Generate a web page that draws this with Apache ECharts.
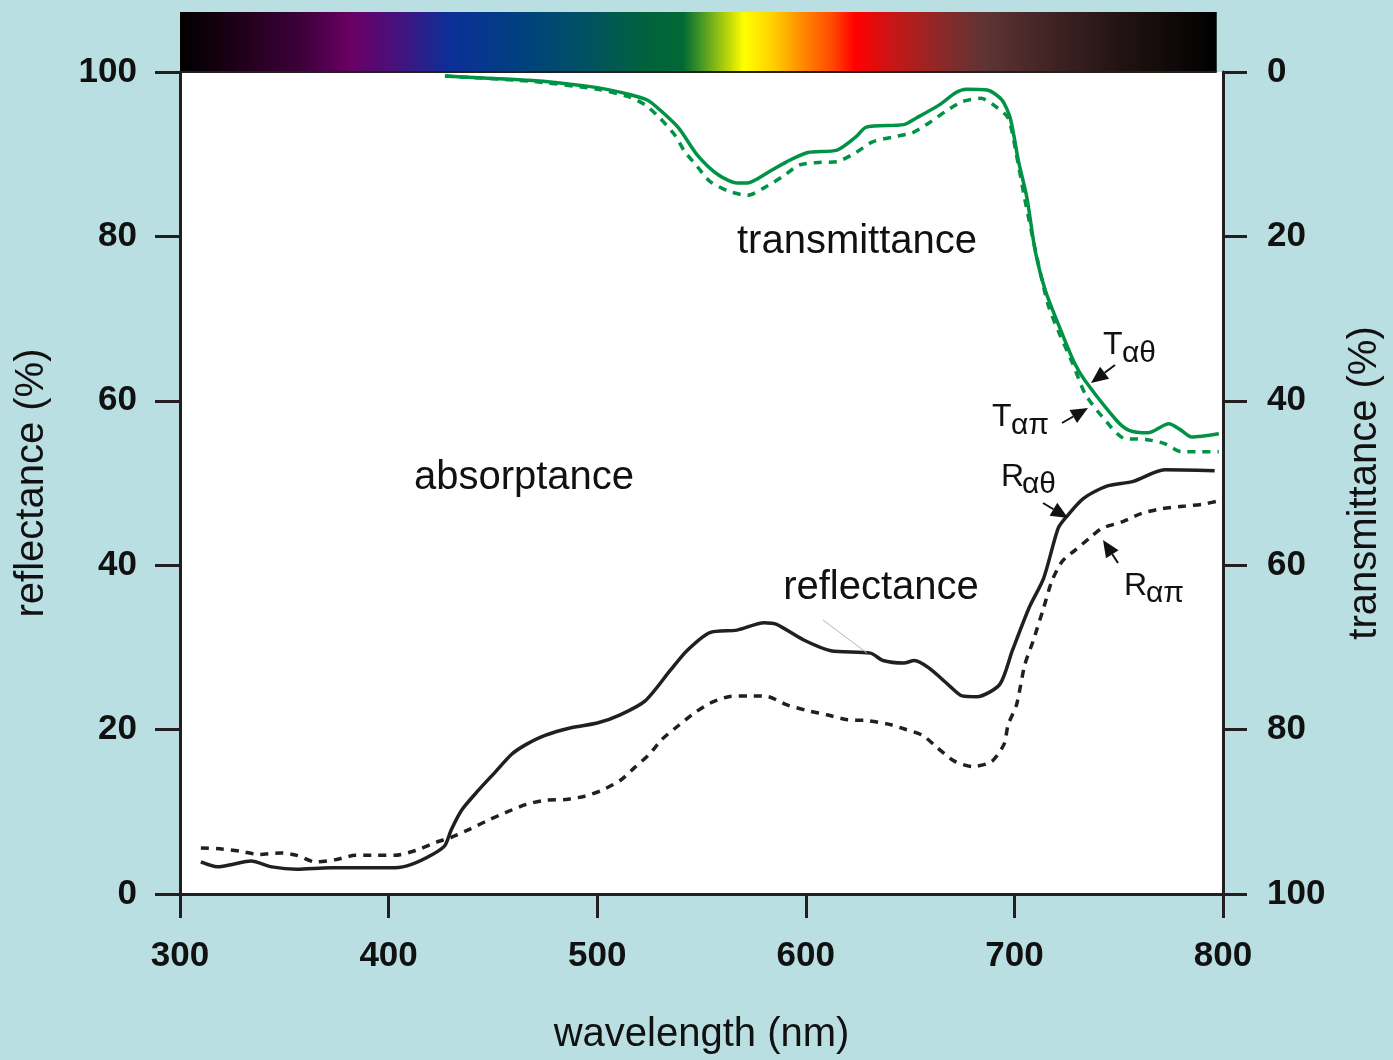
<!DOCTYPE html>
<html>
<head>
<meta charset="utf-8">
<title>leaf spectra</title>
<script src="https://cdn.jsdelivr.net/npm/echarts@6/dist/echarts.min.js"></script>
<style>
    html, body { margin: 0; padding: 0; background: #badfe2; overflow: hidden; width: 100%; height: 100%; }
    #main { width: 100vw; height: 100vh; }
</style>
</head>
<body>
<div id="main"></div>
<script>
// x axis (nm)
var xTicks = [300, 400, 500, 600, 700, 800];
var yTicks = [0, 20, 40, 60, 80, 100];

// transmittance, solid (T alpha theta)
var wlTTheta = [427, 443, 467, 481, 500, 515, 524, 530, 539, 548, 558, 567, 572, 582, 591, 601, 615, 624, 629, 647,
    653, 664, 672, 677, 687, 694, 698, 702, 706, 710, 715, 723, 729, 734, 749, 755, 764, 774, 780, 785, 798];
var tTheta = [0.5, 0.7, 1.0, 1.3, 1.9, 2.7, 3.4, 4.6, 6.8, 10.1, 12.5, 13.5, 13.5, 12.2, 10.9, 9.8, 9.5, 7.9, 6.7, 6.4,
    5.6, 4.0, 2.5, 2.1, 2.2, 3.4, 5.6, 10.9, 15.3, 21.8, 26.7, 31.9, 35.5, 37.6, 42.4, 43.6, 43.9, 42.8, 43.6, 44.4, 44.0];

// transmittance, dashed (T alpha pi)
var wlTPi = [427, 467, 500, 515, 523, 530, 537, 542, 548, 554, 563, 572, 580, 589, 597, 606, 615, 624, 632, 642,
    651, 659, 667, 675, 684, 691, 697, 701, 705, 710, 716, 721, 728, 734, 742, 753, 763, 772, 780, 790, 798];
var tPi = [0.5, 1.1, 2.1, 3.0, 4.0, 5.6, 7.6, 9.7, 11.5, 13.3, 14.5, 15.0, 14.1, 12.7, 11.3, 11.0, 10.9, 9.8, 8.5, 7.9,
    7.4, 6.2, 4.8, 3.6, 3.2, 4.2, 5.6, 10.1, 15.5, 21.6, 28.2, 31.5, 35.5, 39.2, 41.9, 44.6, 44.7, 45.2, 46.2, 46.2, 46.2];

// reflectance, solid (R alpha theta)
var wlRTheta = [310, 318, 325, 334, 344, 356, 372, 387, 403, 411, 421, 427, 430, 435, 443, 451, 459, 466, 475, 487,
    500, 511, 523, 535, 543, 554, 567, 580, 586, 599, 612, 631, 637, 647, 652, 659, 669, 675, 682, 693,
    699, 707, 714, 721, 725, 733, 744, 757, 772, 796];
var rTheta = [3.9, 3.3, 3.6, 4.0, 3.3, 3.0, 3.2, 3.2, 3.2, 3.6, 4.8, 5.9, 7.8, 10.2, 12.6, 14.8, 17.0, 18.2, 19.3, 20.2,
    20.8, 21.8, 23.5, 27.2, 29.6, 31.8, 32.1, 33.0, 32.8, 30.9, 29.6, 29.3, 28.4, 28.1, 28.4, 27.5, 25.3, 24.1, 24.0, 25.5,
    29.6, 34.8, 38.4, 44.5, 45.9, 48.1, 49.6, 50.2, 51.6, 51.5];

// reflectance, dashed (R alpha pi)
var wlRPi = [310, 319, 329, 338, 348, 356, 365, 375, 384, 394, 403, 413, 423, 430, 439, 448, 456, 466, 475, 485,
    494, 502, 511, 518, 525, 531, 539, 547, 554, 563, 573, 582, 591, 601, 610, 620, 629, 639, 647, 656,
    663, 671, 680, 689, 695, 697, 701, 705, 709, 714, 718, 723, 729, 736, 742, 752, 761, 771, 782, 790, 799];
var rPi = [5.6, 5.5, 5.2, 4.8, 5.0, 4.7, 3.9, 4.2, 4.7, 4.7, 4.7, 5.3, 6.3, 6.9, 7.9, 9.0, 9.9, 10.9, 11.4, 11.5,
    11.9, 12.6, 13.8, 15.4, 17.0, 18.8, 20.5, 22.1, 23.2, 24.0, 24.1, 24.0, 23.0, 22.3, 21.8, 21.2, 21.1, 20.7, 20.1, 19.3,
    17.8, 16.2, 15.5, 16.1, 18.2, 20.6, 23.0, 27.9, 30.8, 34.8, 38.1, 40.5, 41.8, 43.3, 44.5, 45.3, 46.3, 46.9, 47.2, 47.4, 47.9];

// spectrum bar colours (offset along the bar)
var specStops = [
    [0, '#000000'], [0.048, '#1a0014'], [0.115, '#3c0038'], [0.165, '#6a0064'], [0.211, '#45127e'],
    [0.26, '#0c2f98'], [0.326, '#004080'], [0.393, '#005262'], [0.451, '#00623c'], [0.485, '#006a34'],
    [0.504, '#4b9a24'], [0.528, '#b8d40a'], [0.544, '#ffff00'], [0.571, '#ffd200'], [0.6, '#ff8a00'],
    [0.629, '#ff4a00'], [0.651, '#ff0000'], [0.691, '#c21818'], [0.739, '#862a2a'], [0.777, '#5e3434'],
    [0.845, '#3e2222'], [0.912, '#201212'], [1, '#000000']
];
var specEnd = 797;   // bar stops just short of 800 nm

var GREEN = '#009245';
var INK = '#231f20';
var FONT = '"Liberation Sans", Arial, sans-serif';

function pairs(xs, ys) {
    var arr = [];
    for (var i = 0; i < xs.length; i++) {
        arr.push([xs[i], ys[i]]);
    }
    return arr;
}

var chart = echarts.init(document.getElementById('main'));
// layout was measured on a 1393x1060 page; scale it to whatever we really got
var kx = chart.getWidth() / 1393;
var ky = chart.getHeight() / 1060;
function X(v) { return v * kx; }
function Y(v) { return v * ky; }

var tickLabel = {
    fontFamily: FONT,
    fontWeight: 'bold',
    fontSize: 35,
    color: '#111'
};
var titleStyle = {fontFamily: FONT, fontSize: 40, color: '#111', verticalAlign: 'middle'};

var option = {
    backgroundColor: '#badfe2',
    animation: false,
    grid: {
        left: X(180),
        right: X(165),
        top: Y(72),
        bottom: Y(163),
        show: true,
        backgroundColor: '#ffffff',
        borderWidth: 0
    },
    xAxis: {
        type: 'value',
        min: xTicks[0],
        max: xTicks[xTicks.length - 1],
        interval: 100,
        name: 'wavelength (nm)',
        nameLocation: 'middle',
        nameGap: Y(141),
        nameTextStyle: titleStyle,
        axisLine: {show: true, lineStyle: {color: INK, width: 3}},
        axisTick: {show: true, inside: false, length: 24, lineStyle: {color: INK, width: 3}},
        axisLabel: Object.assign({margin: Y(45)}, tickLabel),
        splitLine: {show: false}
    },
    yAxis: [
        {
            type: 'value',
            position: 'left',
            min: yTicks[0],
            max: yTicks[yTicks.length - 1],
            interval: 20,
            name: 'reflectance (%)',
            nameLocation: 'middle',
            nameGap: X(148),
            nameTextStyle: titleStyle,
            axisLine: {show: true, lineStyle: {color: INK, width: 3}},
            axisTick: {show: true, inside: false, length: 25, lineStyle: {color: INK, width: 3}},
            axisLabel: Object.assign({margin: X(43)}, tickLabel),
            splitLine: {show: false}
        },
        {
            type: 'value',
            position: 'right',
            inverse: true,
            min: yTicks[0],
            max: yTicks[yTicks.length - 1],
            interval: 20,
            name: 'transmittance (%)',
            nameLocation: 'middle',
            nameGap: X(142),
            nameTextStyle: titleStyle,
            axisLine: {show: true, lineStyle: {color: INK, width: 3}},
            axisTick: {show: true, inside: false, length: 24, lineStyle: {color: INK, width: 3}},
            axisLabel: Object.assign({margin: X(44)}, tickLabel),
            splitLine: {show: false}
        }
    ],
    series: [
        {
            name: 'Tαθ',
            type: 'line',
            yAxisIndex: 1,
            data: pairs(wlTTheta, tTheta),
            showSymbol: false,
            smooth: 0.25,
            lineStyle: {color: GREEN, width: 3.5}
        },
        {
            name: 'Tαπ',
            type: 'line',
            yAxisIndex: 1,
            data: pairs(wlTPi, tPi),
            showSymbol: false,
            smooth: 0.25,
            lineStyle: {color: GREEN, width: 3.5, type: [8, 7]}
        },
        {
            name: 'Rαθ',
            type: 'line',
            yAxisIndex: 0,
            data: pairs(wlRTheta, rTheta),
            showSymbol: false,
            smooth: 0.25,
            lineStyle: {color: INK, width: 3.5}
        },
        {
            name: 'Rαπ',
            type: 'line',
            yAxisIndex: 0,
            data: pairs(wlRPi, rPi),
            showSymbol: false,
            smooth: 0.25,
            lineStyle: {color: INK, width: 3.5, type: [8, 7]}
        }
    ]
};
chart.setOption(option);

// --- annotations -------------------------------------------------------

function label(text, x, y, size, align) {
    return {
        type: 'text',
        silent: true,
        z: 50,
        style: {
            text: text, x: X(x), y: Y(y),
            font: size + 'px ' + FONT,
            fill: '#111',
            textAlign: align || 'center', align: align || 'center',
            textVerticalAlign: 'middle', verticalAlign: 'middle'
        }
    };
}

// short line with a filled head at (x2, y2)
function arrow(x1, y1, x2, y2) {
    x1 = X(x1); x2 = X(x2); y1 = Y(y1); y2 = Y(y2);
    var ang = Math.atan2(y2 - y1, x2 - x1);
    var len = 17, half = 7.5;
    var bx = x2 - len * Math.cos(ang), by = y2 - len * Math.sin(ang);
    var px = -Math.sin(ang) * half, py = Math.cos(ang) * half;
    return [
        {
            type: 'line', silent: true, z: 50,
            shape: {x1: x1, y1: y1, x2: bx, y2: by},
            style: {stroke: '#111', lineWidth: 2}
        },
        {
            type: 'polygon', silent: true, z: 50,
            shape: {points: [[x2, y2], [bx + px, by + py], [bx - px, by - py]]},
            style: {fill: '#111'}
        }
    ];
}

// spectrum strip above the plot, spanning the wavelength axis
var p0 = chart.convertToPixel({xAxisIndex: 0, yAxisIndex: 0}, [xTicks[0], yTicks[yTicks.length - 1]]);
var p1 = chart.convertToPixel({xAxisIndex: 0, yAxisIndex: 0}, [specEnd, yTicks[yTicks.length - 1]]);
var gradStops = specStops.map(function (s) { return {offset: s[0], color: s[1]}; });

var elements = [
    {
        type: 'rect', silent: true, z: 40,
        shape: {x: p0[0], y: Y(12), width: p1[0] - p0[0], height: p0[1] - Y(12)},
        style: {fill: new echarts.graphic.LinearGradient(0, 0, 1, 0, gradStops)}
    },
    {
        type: 'line', silent: true, z: 41,
        shape: {x1: p0[0], y1: p0[1], x2: p1[0], y2: p0[1]},
        style: {stroke: INK, lineWidth: 2}
    },
    label('transmittance', 857, 242, 40),
    label('absorptance', 524, 478, 40),
    label('reflectance', 881, 588, 40),
    // thin leader from the reflectance label to the curve
    {
        type: 'line', silent: true, z: 50,
        shape: {x1: X(823), y1: Y(620), x2: X(867), y2: Y(653)},
        style: {stroke: '#b5b5b5', lineWidth: 1}
    },
    label('T', 1103, 345, 32, 'left'),
    label('αθ', 1122, 354, 30, 'left'),
    label('T', 992, 417, 32, 'left'),
    label('απ', 1011, 426, 30, 'left'),
    label('R', 1001, 477, 32, 'left'),
    label('αθ', 1022, 485, 30, 'left'),
    label('R', 1124, 586, 32, 'left'),
    label('απ', 1146, 594, 30, 'left')
];
elements = elements
    .concat(arrow(1115, 365, 1091, 383))
    .concat(arrow(1062, 423, 1088, 408))
    .concat(arrow(1043, 503, 1068, 518))
    .concat(arrow(1118, 563, 1103, 540));

chart.setOption({graphic: {elements: elements}});
</script>
</body>
</html>
